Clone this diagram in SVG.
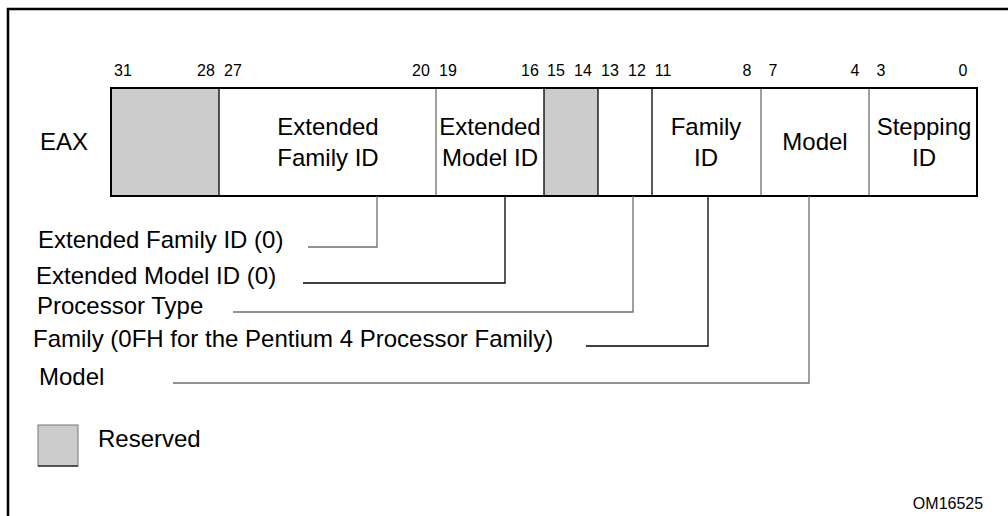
<svg xmlns="http://www.w3.org/2000/svg" width="1008" height="516" viewBox="0 0 1008 516">
<style>
.t{font-family:"Liberation Sans",Arial,sans-serif;font-size:24px;fill:#000}
.b{font-family:"Liberation Sans",Arial,sans-serif;font-size:16px;fill:#000;text-anchor:middle}
.c{text-anchor:middle}
.res{fill:#cccccc}
.dk{stroke:#000;stroke-width:1.3;fill:none}
.gy{stroke:#6e6e6e;stroke-width:1.3;fill:none}
</style>
<rect width="1008" height="516" fill="#fff"/>
<g id="frame">
<path d="M8,516 V9 H1008" fill="none" stroke="#000" stroke-width="2.5"/>
</g>
<g id="bit-numbers">
<text class="b" x="123" y="76">31</text>
<text class="b" x="206" y="76">28</text>
<text class="b" x="233" y="76">27</text>
<text class="b" x="421" y="76">20</text>
<text class="b" x="448" y="76">19</text>
<text class="b" x="530" y="76">16</text>
<text class="b" x="556" y="76">15</text>
<text class="b" x="583" y="76">14</text>
<text class="b" x="610" y="76">13</text>
<text class="b" x="637" y="76">12</text>
<text class="b" x="663" y="76">11</text>
<text class="b" x="747" y="76">8</text>
<text class="b" x="773" y="76">7</text>
<text class="b" x="855" y="76">4</text>
<text class="b" x="881" y="76">3</text>
<text class="b" x="963" y="76">0</text>
</g>
<g id="eax-label"><text class="t" x="40" y="150">EAX</text></g>
<g id="field-reserved-31-28"><rect class="res" x="111" y="88" width="108" height="108"/></g>
<g id="field-ext-family"><text class="t c" x="328" y="135">Extended</text><text class="t c" x="328" y="166">Family ID</text></g>
<g id="field-ext-model"><text class="t c" x="490" y="135">Extended</text><text class="t c" x="490" y="166">Model ID</text></g>
<g id="field-reserved-15-14"><rect class="res" x="544" y="88" width="54" height="108"/></g>
<g id="field-proc-type"></g>
<g id="field-family"><text class="t c" x="706" y="135">Family</text><text class="t c" x="706" y="166">ID</text></g>
<g id="field-model"><text class="t c" x="815" y="150">Model</text></g>
<g id="field-stepping"><text class="t c" x="924" y="135">Stepping</text><text class="t c" x="924" y="166">ID</text></g>
<g id="register-dividers">
<line class="dk" x1="219" y1="88" x2="219" y2="196"/>
<line class="gy" x1="436" y1="88" x2="436" y2="196"/>
<line class="dk" x1="544" y1="88" x2="544" y2="196"/>
<line class="dk" x1="598" y1="88" x2="598" y2="196"/>
<line class="dk" x1="652" y1="88" x2="652" y2="196"/>
<line class="gy" x1="761" y1="88" x2="761" y2="196"/>
<line class="gy" x1="869" y1="88" x2="869" y2="196"/>
<rect x="111" y="88" width="866" height="108" fill="none" stroke="#000" stroke-width="2"/>
</g>
<g id="connectors">
<polyline class="gy" points="308,247 377,247 377,196"/>
<polyline class="dk" points="303,283 505,283 505,196"/>
<polyline class="gy" points="233,312 633,312 633,196"/>
<polyline class="dk" points="586,346 708,346 708,196"/>
<polyline class="gy" points="173,383 809,383 809,196"/>
</g>
<g id="labels">
<text class="t" x="38" y="248">Extended Family ID (0)</text>
<text class="t" x="36" y="284">Extended Model ID (0)</text>
<text class="t" x="37" y="314">Processor Type</text>
<text class="t" x="33" y="347">Family (0FH for the Pentium 4 Processor Family)</text>
<text class="t" x="39" y="385">Model</text>
</g>
<g id="legend">
<rect x="38" y="425" width="40" height="41" fill="#cccccc" stroke="#777" stroke-width="1"/>
<line x1="38" y1="466" x2="78" y2="466" stroke="#333" stroke-width="1.3"/>
<text class="t" x="98" y="447">Reserved</text>
</g>
<g id="figure-id"><text class="b" x="948" y="509">OM16525</text></g>
</svg>
